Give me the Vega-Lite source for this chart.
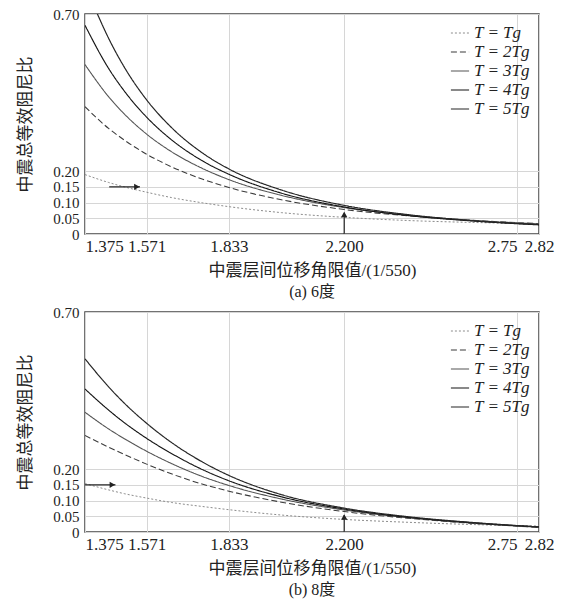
{
  "$schema": "https://vega.github.io/schema/vega-lite/v6.json",
  "padding": {"left": 16, "top": 6, "right": 5, "bottom": 5},
  "background": "white",
  "datasets": {
    "curves": [
      {"panel": "a", "T": "T = Tg", "x": 1.375, "y": 0.189},
      {"panel": "a", "T": "T = Tg", "x": 1.45, "y": 0.164},
      {"panel": "a", "T": "T = Tg", "x": 1.5, "y": 0.15},
      {"panel": "a", "T": "T = Tg", "x": 1.571, "y": 0.133},
      {"panel": "a", "T": "T = Tg", "x": 1.65, "y": 0.116},
      {"panel": "a", "T": "T = Tg", "x": 1.75, "y": 0.099},
      {"panel": "a", "T": "T = Tg", "x": 1.833, "y": 0.087},
      {"panel": "a", "T": "T = Tg", "x": 2.0, "y": 0.068},
      {"panel": "a", "T": "T = Tg", "x": 2.2, "y": 0.053},
      {"panel": "a", "T": "T = Tg", "x": 2.4, "y": 0.043},
      {"panel": "a", "T": "T = Tg", "x": 2.6, "y": 0.037},
      {"panel": "a", "T": "T = Tg", "x": 2.82, "y": 0.033},
      {"panel": "a", "T": "T = 2Tg", "x": 1.375, "y": 0.405},
      {"panel": "a", "T": "T = 2Tg", "x": 1.45, "y": 0.336},
      {"panel": "a", "T": "T = 2Tg", "x": 1.5, "y": 0.299},
      {"panel": "a", "T": "T = 2Tg", "x": 1.571, "y": 0.254},
      {"panel": "a", "T": "T = 2Tg", "x": 1.65, "y": 0.214},
      {"panel": "a", "T": "T = 2Tg", "x": 1.75, "y": 0.174},
      {"panel": "a", "T": "T = 2Tg", "x": 1.833, "y": 0.148},
      {"panel": "a", "T": "T = 2Tg", "x": 2.0, "y": 0.109},
      {"panel": "a", "T": "T = 2Tg", "x": 2.2, "y": 0.078},
      {"panel": "a", "T": "T = 2Tg", "x": 2.4, "y": 0.058},
      {"panel": "a", "T": "T = 2Tg", "x": 2.6, "y": 0.044},
      {"panel": "a", "T": "T = 2Tg", "x": 2.82, "y": 0.033},
      {"panel": "a", "T": "T = 3Tg", "x": 1.375, "y": 0.539},
      {"panel": "a", "T": "T = 3Tg", "x": 1.45, "y": 0.437},
      {"panel": "a", "T": "T = 3Tg", "x": 1.5, "y": 0.382},
      {"panel": "a", "T": "T = 3Tg", "x": 1.571, "y": 0.318},
      {"panel": "a", "T": "T = 3Tg", "x": 1.65, "y": 0.262},
      {"panel": "a", "T": "T = 3Tg", "x": 1.75, "y": 0.208},
      {"panel": "a", "T": "T = 3Tg", "x": 1.833, "y": 0.173},
      {"panel": "a", "T": "T = 3Tg", "x": 2.0, "y": 0.123},
      {"panel": "a", "T": "T = 3Tg", "x": 2.2, "y": 0.084},
      {"panel": "a", "T": "T = 3Tg", "x": 2.4, "y": 0.06},
      {"panel": "a", "T": "T = 3Tg", "x": 2.6, "y": 0.044},
      {"panel": "a", "T": "T = 3Tg", "x": 2.82, "y": 0.032},
      {"panel": "a", "T": "T = 4Tg", "x": 1.375, "y": 0.664},
      {"panel": "a", "T": "T = 4Tg", "x": 1.45, "y": 0.527},
      {"panel": "a", "T": "T = 4Tg", "x": 1.5, "y": 0.455},
      {"panel": "a", "T": "T = 4Tg", "x": 1.571, "y": 0.372},
      {"panel": "a", "T": "T = 4Tg", "x": 1.65, "y": 0.3},
      {"panel": "a", "T": "T = 4Tg", "x": 1.75, "y": 0.232},
      {"panel": "a", "T": "T = 4Tg", "x": 1.833, "y": 0.19},
      {"panel": "a", "T": "T = 4Tg", "x": 2.0, "y": 0.13},
      {"panel": "a", "T": "T = 4Tg", "x": 2.2, "y": 0.086},
      {"panel": "a", "T": "T = 4Tg", "x": 2.4, "y": 0.059},
      {"panel": "a", "T": "T = 4Tg", "x": 2.6, "y": 0.042},
      {"panel": "a", "T": "T = 4Tg", "x": 2.82, "y": 0.029},
      {"panel": "a", "T": "T = 5Tg", "x": 1.414, "y": 0.701},
      {"panel": "a", "T": "T = 5Tg", "x": 1.45, "y": 0.623},
      {"panel": "a", "T": "T = 5Tg", "x": 1.5, "y": 0.531},
      {"panel": "a", "T": "T = 5Tg", "x": 1.571, "y": 0.427},
      {"panel": "a", "T": "T = 5Tg", "x": 1.65, "y": 0.339},
      {"panel": "a", "T": "T = 5Tg", "x": 1.75, "y": 0.257},
      {"panel": "a", "T": "T = 5Tg", "x": 1.833, "y": 0.207},
      {"panel": "a", "T": "T = 5Tg", "x": 2.0, "y": 0.14},
      {"panel": "a", "T": "T = 5Tg", "x": 2.2, "y": 0.091},
      {"panel": "a", "T": "T = 5Tg", "x": 2.4, "y": 0.062},
      {"panel": "a", "T": "T = 5Tg", "x": 2.6, "y": 0.043},
      {"panel": "a", "T": "T = 5Tg", "x": 2.82, "y": 0.03},
      {"panel": "b", "T": "T = Tg", "x": 1.375, "y": 0.154},
      {"panel": "b", "T": "T = Tg", "x": 1.45, "y": 0.134},
      {"panel": "b", "T": "T = Tg", "x": 1.5, "y": 0.122},
      {"panel": "b", "T": "T = Tg", "x": 1.571, "y": 0.108},
      {"panel": "b", "T": "T = Tg", "x": 1.65, "y": 0.094},
      {"panel": "b", "T": "T = Tg", "x": 1.75, "y": 0.081},
      {"panel": "b", "T": "T = Tg", "x": 1.833, "y": 0.071},
      {"panel": "b", "T": "T = Tg", "x": 2.0, "y": 0.054},
      {"panel": "b", "T": "T = Tg", "x": 2.2, "y": 0.04},
      {"panel": "b", "T": "T = Tg", "x": 2.4, "y": 0.031},
      {"panel": "b", "T": "T = Tg", "x": 2.6, "y": 0.024},
      {"panel": "b", "T": "T = Tg", "x": 2.82, "y": 0.019},
      {"panel": "b", "T": "T = 2Tg", "x": 1.375, "y": 0.307},
      {"panel": "b", "T": "T = 2Tg", "x": 1.45, "y": 0.27},
      {"panel": "b", "T": "T = 2Tg", "x": 1.5, "y": 0.247},
      {"panel": "b", "T": "T = 2Tg", "x": 1.571, "y": 0.216},
      {"panel": "b", "T": "T = 2Tg", "x": 1.65, "y": 0.185},
      {"panel": "b", "T": "T = 2Tg", "x": 1.75, "y": 0.152},
      {"panel": "b", "T": "T = 2Tg", "x": 1.833, "y": 0.13},
      {"panel": "b", "T": "T = 2Tg", "x": 2.0, "y": 0.095},
      {"panel": "b", "T": "T = 2Tg", "x": 2.2, "y": 0.065},
      {"panel": "b", "T": "T = 2Tg", "x": 2.4, "y": 0.044},
      {"panel": "b", "T": "T = 2Tg", "x": 2.6, "y": 0.028},
      {"panel": "b", "T": "T = 2Tg", "x": 2.82, "y": 0.015},
      {"panel": "b", "T": "T = 3Tg", "x": 1.375, "y": 0.381},
      {"panel": "b", "T": "T = 3Tg", "x": 1.45, "y": 0.328},
      {"panel": "b", "T": "T = 3Tg", "x": 1.5, "y": 0.297},
      {"panel": "b", "T": "T = 3Tg", "x": 1.571, "y": 0.257},
      {"panel": "b", "T": "T = 3Tg", "x": 1.65, "y": 0.218},
      {"panel": "b", "T": "T = 3Tg", "x": 1.75, "y": 0.176},
      {"panel": "b", "T": "T = 3Tg", "x": 1.833, "y": 0.148},
      {"panel": "b", "T": "T = 3Tg", "x": 2.0, "y": 0.105},
      {"panel": "b", "T": "T = 3Tg", "x": 2.2, "y": 0.07},
      {"panel": "b", "T": "T = 3Tg", "x": 2.4, "y": 0.046},
      {"panel": "b", "T": "T = 3Tg", "x": 2.6, "y": 0.029},
      {"panel": "b", "T": "T = 3Tg", "x": 2.82, "y": 0.015},
      {"panel": "b", "T": "T = 4Tg", "x": 1.375, "y": 0.455},
      {"panel": "b", "T": "T = 4Tg", "x": 1.45, "y": 0.388},
      {"panel": "b", "T": "T = 4Tg", "x": 1.5, "y": 0.348},
      {"panel": "b", "T": "T = 4Tg", "x": 1.571, "y": 0.298},
      {"panel": "b", "T": "T = 4Tg", "x": 1.65, "y": 0.25},
      {"panel": "b", "T": "T = 4Tg", "x": 1.75, "y": 0.198},
      {"panel": "b", "T": "T = 4Tg", "x": 1.833, "y": 0.163},
      {"panel": "b", "T": "T = 4Tg", "x": 2.0, "y": 0.112},
      {"panel": "b", "T": "T = 4Tg", "x": 2.2, "y": 0.073},
      {"panel": "b", "T": "T = 4Tg", "x": 2.4, "y": 0.047},
      {"panel": "b", "T": "T = 4Tg", "x": 2.6, "y": 0.03},
      {"panel": "b", "T": "T = 4Tg", "x": 2.82, "y": 0.016},
      {"panel": "b", "T": "T = 5Tg", "x": 1.375, "y": 0.551},
      {"panel": "b", "T": "T = 5Tg", "x": 1.45, "y": 0.462},
      {"panel": "b", "T": "T = 5Tg", "x": 1.5, "y": 0.41},
      {"panel": "b", "T": "T = 5Tg", "x": 1.571, "y": 0.346},
      {"panel": "b", "T": "T = 5Tg", "x": 1.65, "y": 0.285},
      {"panel": "b", "T": "T = 5Tg", "x": 1.75, "y": 0.222},
      {"panel": "b", "T": "T = 5Tg", "x": 1.833, "y": 0.18},
      {"panel": "b", "T": "T = 5Tg", "x": 2.0, "y": 0.119},
      {"panel": "b", "T": "T = 5Tg", "x": 2.2, "y": 0.076},
      {"panel": "b", "T": "T = 5Tg", "x": 2.4, "y": 0.049},
      {"panel": "b", "T": "T = 5Tg", "x": 2.6, "y": 0.031},
      {"panel": "b", "T": "T = 5Tg", "x": 2.82, "y": 0.016}
    ],
    "arrows": [
      {"panel": "a", "x": 1.452, "x2": 1.55, "y": 0.15, "y2": 0.15},
      {"panel": "a", "x": 2.2, "x2": 2.2, "y": 0, "y2": 0.068},
      {"panel": "b", "x": 1.375, "x2": 1.472, "y": 0.15, "y2": 0.15},
      {"panel": "b", "x": 2.2, "x2": 2.2, "y": 0, "y2": 0.054}
    ],
    "heads": [
      {"panel": "a", "dir": "right", "x": 1.54, "y": 0.15},
      {"panel": "a", "dir": "up", "x": 2.2, "y": 0.062},
      {"panel": "b", "dir": "right", "x": 1.462, "y": 0.15},
      {"panel": "b", "dir": "up", "x": 2.2, "y": 0.048}
    ]
  },
  "vconcat": [
    {
      "width": 454,
      "height": 220,
      "title": {"text": "(a) 6度", "orient": "bottom", "offset": 6},
      "layer": [
        {
          "data": {"name": "curves"},
          "transform": [{"filter": "datum.panel == 'a'"}],
          "mark": {"type": "line", "interpolate": "monotone", "clip": true},
          "encoding": {
            "x": {"field": "x", "type": "quantitative", "scale": {"domain": [1.375, 2.82], "nice": false, "zero": false},
              "axis": {"values": [1.375, 1.571, 1.833, 2.2, 2.75, 2.82], "title": "中震层间位移角限值/(1/550)",
                "labelExpr": "datum.value == 2.2 ? '2.200' : (datum.value > 2.7 ? format(datum.value, '.2f') : format(datum.value, '.3f'))",
                "labelAlign": {"condition": [{"test": "datum.value < 1.4", "value": "left"}, {"test": "datum.value > 2.7 && datum.value < 2.8", "value": "right"}], "value": "center"},
                "labelOverlap": false, "labelFlush": false, "labelPadding": 4, "titlePadding": 8}},
            "y": {"field": "y", "type": "quantitative", "scale": {"domain": [0, 0.7], "nice": false},
              "axis": {"values": [0, 0.05, 0.1, 0.15, 0.2, 0.7], "title": "中震总等效阻尼比",
                "labelExpr": "datum.value == 0 ? '0' : format(datum.value, '.2f')",
                "labelFontSize": 15, "labelFlush": false, "labelOverlap": false, "labelPadding": 6, "titlePadding": 18}},
            "color": {"field": "T", "type": "ordinal", "scale": {"domain": ["T = Tg", "T = 2Tg", "T = 3Tg", "T = 4Tg", "T = 5Tg"], "range": ["#8c8c8c", "#3a3a3a", "#555555", "#151515", "#262626"]}},
            "strokeDash": {"field": "T", "type": "ordinal", "scale": {"domain": ["T = Tg", "T = 2Tg", "T = 3Tg", "T = 4Tg", "T = 5Tg"], "range": [[2, 2], [6, 3], [1, 0], [1, 0], [1, 0]]}},
            "strokeWidth": {"field": "T", "type": "ordinal", "scale": {"domain": ["T = Tg", "T = 2Tg", "T = 3Tg", "T = 4Tg", "T = 5Tg"], "range": [1, 1.2, 1, 2.6, 1.8]}}
          }
        },
        {
          "data": {"name": "arrows"},
          "transform": [{"filter": "datum.panel == 'a'"}],
          "mark": {"type": "rule", "color": "#222222", "strokeWidth": 1.2},
          "encoding": {
            "x": {"field": "x", "type": "quantitative"},
            "x2": {"field": "x2"},
            "y": {"field": "y", "type": "quantitative"},
            "y2": {"field": "y2"}
          }
        },
        {
          "data": {"name": "heads"},
          "transform": [{"filter": "datum.panel == 'a'"}],
          "mark": {"type": "point", "filled": true, "color": "#222222", "size": 40, "opacity": 1},
          "encoding": {
            "x": {"field": "x", "type": "quantitative"},
            "y": {"field": "y", "type": "quantitative"},
            "shape": {"field": "dir", "type": "nominal", "scale": {"domain": ["right", "up"], "range": ["triangle-right", "triangle-up"]}, "legend": null}
          }
        }
      ]
    },
    {
      "width": 454,
      "height": 220,
      "title": {"text": "(b) 8度", "orient": "bottom", "offset": 6},
      "layer": [
        {
          "data": {"name": "curves"},
          "transform": [{"filter": "datum.panel == 'b'"}],
          "mark": {"type": "line", "interpolate": "monotone", "clip": true},
          "encoding": {
            "x": {"field": "x", "type": "quantitative", "scale": {"domain": [1.375, 2.82], "nice": false, "zero": false},
              "axis": {"values": [1.375, 1.571, 1.833, 2.2, 2.75, 2.82], "title": "中震层间位移角限值/(1/550)",
                "labelExpr": "datum.value == 2.2 ? '2.200' : (datum.value > 2.7 ? format(datum.value, '.2f') : format(datum.value, '.3f'))",
                "labelAlign": {"condition": [{"test": "datum.value < 1.4", "value": "left"}, {"test": "datum.value > 2.7 && datum.value < 2.8", "value": "right"}], "value": "center"},
                "labelOverlap": false, "labelFlush": false, "labelPadding": 4, "titlePadding": 8}},
            "y": {"field": "y", "type": "quantitative", "scale": {"domain": [0, 0.7], "nice": false},
              "axis": {"values": [0, 0.05, 0.1, 0.15, 0.2, 0.7], "title": "中震总等效阻尼比",
                "labelExpr": "datum.value == 0 ? '0' : format(datum.value, '.2f')",
                "labelFontSize": 15, "labelFlush": false, "labelOverlap": false, "labelPadding": 6, "titlePadding": 18}},
            "color": {"field": "T", "type": "ordinal", "scale": {"domain": ["T = Tg", "T = 2Tg", "T = 3Tg", "T = 4Tg", "T = 5Tg"], "range": ["#8c8c8c", "#3a3a3a", "#555555", "#151515", "#262626"]}},
            "strokeDash": {"field": "T", "type": "ordinal", "scale": {"domain": ["T = Tg", "T = 2Tg", "T = 3Tg", "T = 4Tg", "T = 5Tg"], "range": [[2, 2], [6, 3], [1, 0], [1, 0], [1, 0]]}},
            "strokeWidth": {"field": "T", "type": "ordinal", "scale": {"domain": ["T = Tg", "T = 2Tg", "T = 3Tg", "T = 4Tg", "T = 5Tg"], "range": [1, 1.2, 1, 2.6, 1.8]}}
          }
        },
        {
          "data": {"name": "arrows"},
          "transform": [{"filter": "datum.panel == 'b'"}],
          "mark": {"type": "rule", "color": "#222222", "strokeWidth": 1.2},
          "encoding": {
            "x": {"field": "x", "type": "quantitative"},
            "x2": {"field": "x2"},
            "y": {"field": "y", "type": "quantitative"},
            "y2": {"field": "y2"}
          }
        },
        {
          "data": {"name": "heads"},
          "transform": [{"filter": "datum.panel == 'b'"}],
          "mark": {"type": "point", "filled": true, "color": "#222222", "size": 40, "opacity": 1},
          "encoding": {
            "x": {"field": "x", "type": "quantitative"},
            "y": {"field": "y", "type": "quantitative"},
            "shape": {"field": "dir", "type": "nominal", "scale": {"domain": ["right", "up"], "range": ["triangle-right", "triangle-up"]}, "legend": null}
          }
        }
      ]
    }
  ],
  "spacing": 3,
  "resolve": {
    "scale": {"color": "independent", "strokeDash": "independent", "strokeWidth": "independent", "shape": "independent"},
    "legend": {"color": "independent", "strokeDash": "independent", "strokeWidth": "independent"}
  },
  "config": {
    "font": "Liberation Serif, Noto Sans CJK SC",
    "view": {"stroke": "#444444", "strokeWidth": 1.5},
    "axis": {
      "labelFont": "Liberation Serif, Noto Sans CJK SC",
      "labelFontSize": 17,
      "labelColor": "#222222",
      "titleFont": "Liberation Serif, Noto Sans CJK SC",
      "titleFontSize": 17,
      "titleFontWeight": "normal",
      "titleColor": "#222222",
      "ticks": false,
      "domain": false,
      "grid": true,
      "gridColor": "#d6d6d6",
      "gridWidth": 1
    },
    "legend": {
      "orient": "top-right",
      "offset": 9,
      "title": null,
      "symbolType": "stroke",
      "symbolSize": 330,
      "labelFont": "Liberation Serif",
      "labelFontSize": 17,
      "labelFontStyle": "italic",
      "labelColor": "#222222",
      "rowPadding": 1,
      "padding": 0
    },
    "title": {
      "font": "Liberation Serif, Noto Sans CJK SC",
      "fontSize": 16,
      "fontWeight": "normal",
      "color": "#222222"
    }
  }
}
